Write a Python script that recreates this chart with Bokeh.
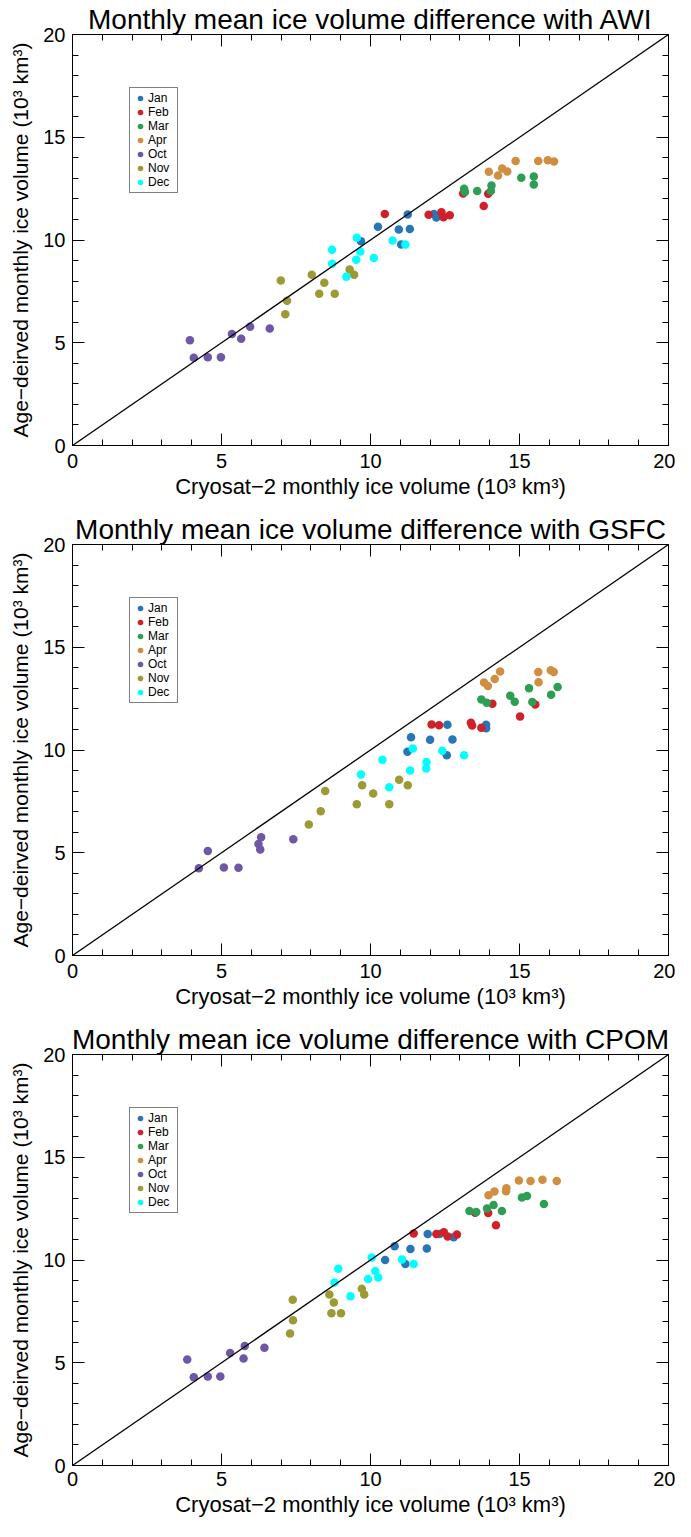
from bokeh.plotting import figure
from bokeh.models import Range1d, LinearAxis, SingleIntervalTicker, Slope, Legend, LegendItem
from bokeh.layouts import column
from bokeh.embed import file_html
from bokeh.resources import INLINE

FONT = "Liberation Sans"

MONTHS = ["Jan", "Feb", "Mar", "Apr", "Oct", "Nov", "Dec"]
COLORS = ["#2776b8", "#d0202a", "#2e9e55", "#d08f40", "#6d57a6", "#9b9a35", "#00ffff"]

X_LABEL = "Cryosat\u22122 monthly ice volume (10\u00b3 km\u00b3)"
Y_LABEL = "Age\u2212deirved monthly ice volume (10\u00b3 km\u00b3)"
TITLES = ["Monthly mean ice volume difference with AWI",
          "Monthly mean ice volume difference with GSFC",
          "Monthly mean ice volume difference with CPOM"]

# ---------------- AWI ----------------
AWI_JAN_X = [9.68, 10.25, 10.95, 11.03, 11.25, 11.32, 12.13, 12.21]
AWI_JAN_Y = [9.94, 10.64, 10.51, 9.78, 11.24, 10.54, 11.26, 11.09]
AWI_FEB_X = [10.48, 11.95, 12.38, 12.45, 12.66, 13.11, 13.80, 13.95]
AWI_FEB_Y = [11.27, 11.23, 11.35, 11.11, 11.21, 12.26, 11.66, 12.25]
AWI_MAR_X = [13.14, 13.17, 13.58, 14.06, 14.04, 15.06, 15.48, 15.48]
AWI_MAR_Y = [12.49, 12.33, 12.38, 12.65, 12.38, 13.03, 13.09, 12.70]
AWI_APR_X = [13.97, 14.28, 14.42, 14.59, 14.87, 15.63, 15.95, 16.16]
AWI_APR_Y = [13.32, 13.14, 13.48, 13.33, 13.85, 13.84, 13.88, 13.82]
AWI_OCT_X = [3.94, 4.07, 4.54, 4.98, 5.35, 5.66, 5.96, 6.62]
AWI_OCT_Y = [5.12, 4.27, 4.30, 4.30, 5.43, 5.19, 5.78, 5.69]
AWI_NOV_X = [6.99, 7.20, 7.14, 8.03, 8.45, 8.28, 8.80, 9.30, 9.45]
AWI_NOV_Y = [8.03, 7.04, 6.39, 8.31, 7.92, 7.38, 7.38, 8.56, 8.31]
AWI_DEC_X = [8.71, 8.71, 9.19, 9.52, 9.54, 9.66, 10.11, 10.74, 11.17]
AWI_DEC_Y = [9.52, 8.84, 8.21, 9.04, 10.11, 9.44, 9.12, 9.98, 9.78]

# ---------------- GSFC ----------------
GSFC_JAN_X = [11.24, 11.36, 12.00, 12.56, 12.58, 12.75, 13.88, 13.88]
GSFC_JAN_Y = [9.91, 10.62, 10.50, 9.75, 11.23, 10.51, 11.23, 11.06]
GSFC_FEB_X = [12.05, 12.30, 13.37, 13.41, 13.72, 14.09, 15.02, 15.53]
GSFC_FEB_Y = [11.24, 11.21, 11.32, 11.19, 11.08, 12.25, 11.63, 12.21]
GSFC_MAR_X = [13.72, 13.90, 14.69, 14.84, 15.32, 15.43, 16.06, 16.28]
GSFC_MAR_Y = [12.46, 12.30, 12.64, 12.35, 13.01, 12.33, 12.69, 13.07]
GSFC_APR_X = [13.81, 13.94, 14.17, 14.35, 15.63, 15.64, 16.05, 16.15]
GSFC_APR_Y = [13.28, 13.12, 13.45, 13.82, 13.80, 13.30, 13.88, 13.79]
GSFC_OCT_X = [4.24, 4.54, 5.08, 5.57, 6.24, 6.30, 6.33, 7.41]
GSFC_OCT_Y = [4.25, 5.09, 4.28, 4.27, 5.43, 5.16, 5.76, 5.66]
GSFC_NOV_X = [7.93, 8.33, 8.48, 9.54, 9.72, 10.09, 10.63, 10.96, 11.25]
GSFC_NOV_Y = [6.37, 7.02, 8.00, 7.36, 8.29, 7.88, 7.36, 8.55, 8.29]
GSFC_DEC_X = [9.68, 10.40, 10.63, 11.33, 11.42, 11.87, 11.88, 12.41, 13.14]
GSFC_DEC_Y = [8.81, 9.52, 8.19, 9.00, 10.07, 9.10, 9.42, 9.96, 9.75]

# ---------------- CPOM ----------------
CPOM_JAN_X = [10.49, 10.81, 11.17, 11.34, 11.89, 11.92, 12.32, 12.79]
CPOM_JAN_Y = [10.00, 10.67, 9.81, 10.53, 10.56, 11.27, 11.26, 11.11]
CPOM_FEB_X = [11.45, 12.21, 12.46, 12.59, 12.90, 13.51, 13.95, 14.21]
CPOM_FEB_Y = [11.29, 11.26, 11.35, 11.14, 11.24, 12.30, 12.29, 11.69]
CPOM_MAR_X = [13.32, 13.55, 13.91, 14.13, 14.41, 15.08, 15.25, 15.82]
CPOM_MAR_Y = [12.39, 12.34, 12.51, 12.68, 12.38, 13.04, 13.11, 12.73]
CPOM_APR_X = [13.96, 14.16, 14.55, 14.56, 14.98, 15.37, 15.77, 16.25]
CPOM_APR_Y = [13.15, 13.33, 13.35, 13.49, 13.87, 13.85, 13.90, 13.85]
CPOM_OCT_X = [3.85, 4.07, 4.54, 4.96, 5.29, 5.74, 5.78, 6.44]
CPOM_OCT_Y = [5.16, 4.30, 4.33, 4.33, 5.48, 5.21, 5.81, 5.73]
CPOM_NOV_X = [7.30, 7.39, 7.40, 8.62, 8.69, 8.77, 9.01, 9.71, 9.79]
CPOM_NOV_Y = [6.42, 8.06, 7.07, 8.32, 7.41, 7.93, 7.41, 8.60, 8.32]
CPOM_DEC_X = [8.79, 8.92, 9.33, 9.92, 10.04, 10.16, 10.26, 11.06, 11.45]
CPOM_DEC_Y = [8.90, 9.57, 8.24, 9.07, 10.12, 9.47, 9.15, 10.02, 9.81]

PANELS = [
    [(AWI_JAN_X, AWI_JAN_Y), (AWI_FEB_X, AWI_FEB_Y), (AWI_MAR_X, AWI_MAR_Y), (AWI_APR_X, AWI_APR_Y),
     (AWI_OCT_X, AWI_OCT_Y), (AWI_NOV_X, AWI_NOV_Y), (AWI_DEC_X, AWI_DEC_Y)],
    [(GSFC_JAN_X, GSFC_JAN_Y), (GSFC_FEB_X, GSFC_FEB_Y), (GSFC_MAR_X, GSFC_MAR_Y), (GSFC_APR_X, GSFC_APR_Y),
     (GSFC_OCT_X, GSFC_OCT_Y), (GSFC_NOV_X, GSFC_NOV_Y), (GSFC_DEC_X, GSFC_DEC_Y)],
    [(CPOM_JAN_X, CPOM_JAN_Y), (CPOM_FEB_X, CPOM_FEB_Y), (CPOM_MAR_X, CPOM_MAR_Y), (CPOM_APR_X, CPOM_APR_Y),
     (CPOM_OCT_X, CPOM_OCT_Y), (CPOM_NOV_X, CPOM_NOV_Y), (CPOM_DEC_X, CPOM_DEC_Y)],
]

# (min_border_top, min_border_bottom, x tick-label standoff, x axis-label standoff)
BORDERS = [(34, 59, 8, 3), (40, 59, 8, 3), (40, 56, 6, 3)]


def style_axis(ax, labels=True):
    ax.ticker = SingleIntervalTicker(interval=5, num_minor_ticks=5)
    ax.axis_line_color = "black"
    ax.axis_line_width = 1
    ax.major_tick_line_color = "black"
    ax.minor_tick_line_color = "black"
    ax.major_tick_in = 12
    ax.major_tick_out = 0
    ax.minor_tick_in = 6
    ax.minor_tick_out = 0
    if labels:
        ax.major_label_text_font = FONT
        ax.major_label_text_font_size = "20px"
        ax.major_label_text_color = "black"
        ax.axis_label_text_font = FONT
        ax.axis_label_text_font_size = "22px"
        ax.axis_label_text_font_style = "normal"
        ax.axis_label_text_color = "black"
    else:
        ax.major_label_text_color = None
        ax.major_label_standoff = 0


plots = []
for i, series in enumerate(PANELS):
    top, bottom, tick_so, lab_so = BORDERS[i]
    p = figure(frame_width=596, frame_height=411,
               x_range=Range1d(0, 20), y_range=Range1d(0, 20),
               output_backend="svg", toolbar_location=None,
               min_border_left=72, min_border_right=7,
               min_border_top=top, min_border_bottom=bottom,
               background_fill_color="white", border_fill_color="white")
    p.grid.visible = False
    p.outline_line_color = "black"

    p.title.text = TITLES[i]
    p.title.text_font = FONT
    p.title.text_font_size = "28px"
    p.title.text_font_style = "normal"
    p.title.text_color = "black"
    p.title.align = "center"
    p.title.standoff = 0

    xa = p.xaxis[0]
    ya = p.yaxis[0]
    style_axis(xa)
    style_axis(ya)
    xa.axis_label = X_LABEL
    ya.axis_label = Y_LABEL
    ya.axis_label_text_font_size = "21px"
    xa.major_label_standoff = tick_so
    xa.axis_label_standoff = lab_so
    ya.major_label_standoff = 7
    ya.axis_label_standoff = 8

    top_ax = LinearAxis()
    style_axis(top_ax, labels=False)
    p.add_layout(top_ax, "above")
    right_ax = LinearAxis()
    style_axis(right_ax, labels=False)
    p.add_layout(right_ax, "right")

    p.add_layout(Slope(gradient=1, y_intercept=0, line_color="black", line_width=1.3))

    items = []
    for (xs, ys), m, c in zip(series, MONTHS, COLORS):
        r = p.scatter(xs, ys, size=8.5, marker="circle", fill_color=c, line_color=None)
        items.append(LegendItem(label=m, renderers=[r]))

    legend = Legend(items=items, location=(57, 252),
                    label_text_font=FONT, label_text_font_size="12px",
                    label_text_color="black",
                    glyph_width=14, glyph_height=14, label_height=13,
                    label_width=26, label_standoff=1, spacing=0, padding=3, margin=0,
                    border_line_color="black", border_line_width=1,
                    background_fill_color="white", background_fill_alpha=1)
    p.add_layout(legend, "center")
    plots.append(p)

layout = column(*plots, spacing=0)
open("out.html", "w").write(file_html(layout, INLINE))
